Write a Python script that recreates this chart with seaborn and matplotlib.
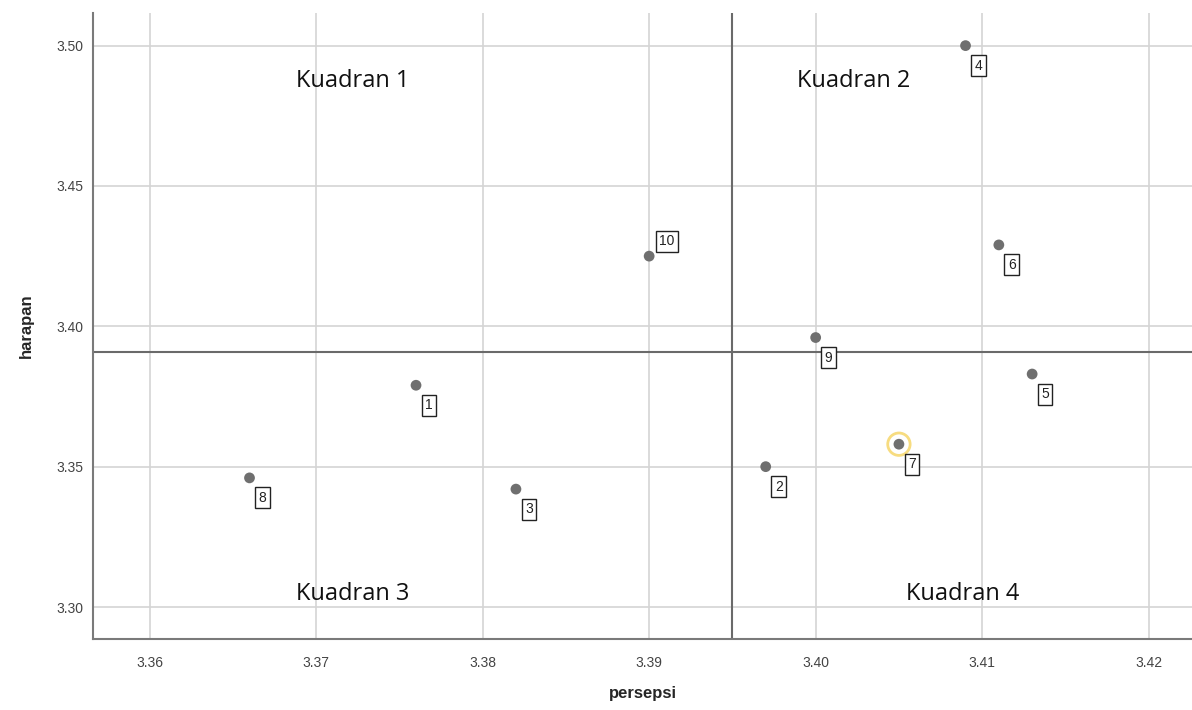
import pandas as pd
import seaborn as sns
import matplotlib.pyplot as plt

# data
atribut = ['1', '2', '3', '4', '5', '6', '7', '8', '9', '10']
persepsi = [3.376, 3.397, 3.382, 3.409, 3.413, 3.411, 3.405, 3.366, 3.400, 3.390]
harapan = [3.379, 3.350, 3.342, 3.500, 3.383, 3.429, 3.358, 3.346, 3.396, 3.425]
rata_persepsi = 3.395
rata_harapan = 3.391
kuadran = ['Kuadran 1', 'Kuadran 2', 'Kuadran 3', 'Kuadran 4']

df = pd.DataFrame({'atribut': atribut, 'persepsi': persepsi, 'harapan': harapan})

sns.set_style('white')
plt.rcParams['font.family'] = ['Liberation Sans', 'DejaVu Sans']

fig = plt.figure(figsize=(11.92, 7.10), dpi=100)
ax = fig.add_axes([0.078, 0.1, 0.922, 0.882])

ax.grid(True, color='#d4d4d4', linewidth=1.2)
ax.set_axisbelow(True)

sns.scatterplot(data=df, x='persepsi', y='harapan', ax=ax, color='#6f6f6f',
                s=60, edgecolor='none', zorder=3)

# titik 7 disorot
ax.scatter([persepsi[6]], [harapan[6]], s=260, facecolor='none',
           edgecolor='#f7dc80', linewidth=2, zorder=2)

ax.axvline(rata_persepsi, color='#6a6a6a', linewidth=1.5, zorder=2)
ax.axhline(rata_harapan, color='#6a6a6a', linewidth=1.5, zorder=2)

# label titik
for nama, xv, yv in zip(atribut, persepsi, harapan):
    if nama == '10':
        off = (18, 15)
    else:
        off = (13, -20)
    ax.annotate(nama, (xv, yv), xytext=off, textcoords='offset pixels',
                ha='center', va='center', fontsize=10, color='#222222',
                bbox=dict(boxstyle='square,pad=0.25', facecolor='white',
                          edgecolor='#222222', linewidth=1), zorder=4)

# teks kuadran
tfont = dict(fontsize=17, family=['Open Sans', 'DejaVu Sans'], color='#111111',
             ha='center', va='center')
ax.text(3.3722, 3.4875, kuadran[0], **tfont)
ax.text(3.4023, 3.4875, kuadran[1], **tfont)
ax.text(3.3722, 3.3045, kuadran[2], **tfont)
ax.text(3.4088, 3.3045, kuadran[3], **tfont)

ax.set_xlim(3.3566, 3.4226)
ax.set_ylim(3.2886, 3.5117)
ax.set_xticks([3.36, 3.37, 3.38, 3.39, 3.40, 3.41, 3.42])
ax.set_yticks([3.30, 3.35, 3.40, 3.45, 3.50])
ax.set_xticklabels(['%.2f' % v for v in ax.get_xticks()])
ax.set_yticklabels(['%.2f' % v for v in ax.get_yticks()])
ax.tick_params(labelsize=10, colors='#444444', length=0)
ax.tick_params(axis='x', pad=12)
ax.tick_params(axis='y', pad=7)

for s in ['top', 'right']:
    ax.spines[s].set_visible(False)
for s in ['left', 'bottom']:
    ax.spines[s].set_color('#7a7a7a')
    ax.spines[s].set_linewidth(1.5)

ax.set_xlabel('persepsi', fontsize=12, fontweight='bold', labelpad=12)
ax.set_ylabel('harapan', fontsize=12, fontweight='bold', labelpad=16)

plt.savefig('out.png', dpi=100)
